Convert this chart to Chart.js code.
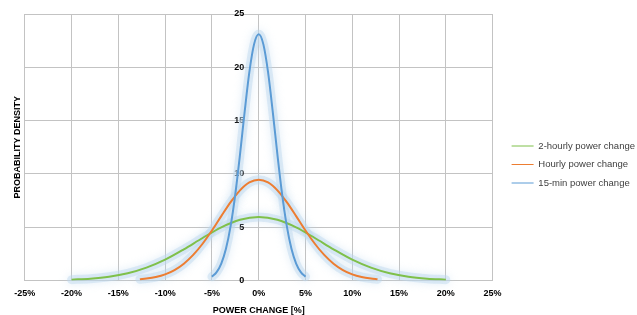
<!DOCTYPE html>
<html>
<head>
<meta charset="utf-8">
<script src="https://cdn.jsdelivr.net/npm/chart.js@4"></script>
<style>
  html, body { margin: 0; padding: 0; background: #fff; }
</style>
</head>
<body>
<canvas id="chart" width="637" height="315"></canvas>
<script>
// series names
const seriesNames = ["2-hourly power change", "Hourly power change", "15-min power change"];

// 2-hourly power change (x in %, y = density)
const twoHourX = [-20, -18, -16, -14, -12, -10, -8, -6, -4, -2, 0, 2, 4, 6, 8, 10, 12, 14, 16, 18, 20];
const twoHourY = [0.07, 0.16, 0.34, 0.67, 1.20, 1.95, 2.92, 3.98, 4.98, 5.69, 5.95, 5.69, 4.98, 3.98, 2.92, 1.95, 1.20, 0.67, 0.34, 0.16, 0.07];

// Hourly power change
const hourX = [-12.7, -12, -11, -10, -9, -8, -7, -6, -5, -4, -3, -2, -1, 0, 1, 2, 3, 4, 5, 6, 7, 8, 9, 10, 11, 12, 12.7];
const hourY = [0.10, 0.17, 0.32, 0.57, 0.97, 1.57, 2.39, 3.44, 4.68, 6.03, 7.34, 8.45, 9.19, 9.45, 9.19, 8.45, 7.34, 6.03, 4.68, 3.44, 2.39, 1.57, 0.97, 0.57, 0.32, 0.17, 0.10];

// 15-min power change
const quarterX = [-5, -4.5, -4, -3.5, -3, -2.5, -2, -1.5, -1, -0.5, 0, 0.5, 1, 1.5, 2, 2.5, 3, 3.5, 4, 4.5, 5];
const quarterY = [0.35, 0.78, 1.58, 2.96, 5.11, 8.10, 11.81, 15.84, 19.54, 22.15, 23.1, 22.15, 19.54, 15.84, 11.81, 8.10, 5.11, 2.96, 1.58, 0.78, 0.35];

const colors = ["#7fc04a", "#ed7d31", "#5b9bd5"];

function pts(xs, ys) {
    return xs.map((x, i) => ({ x: x, y: ys[i] }));
}

Chart.defaults.font.family = "'Liberation Sans', Arial, sans-serif";
Chart.defaults.color = "#000";

// soft light-blue glow under every curve
const glow = {
    id: "glow",
    beforeDatasetsDraw(chart) {
        const ctx = chart.ctx;
        chart.getSortedVisibleDatasetMetas().forEach(meta => {
            ctx.save();
            ctx.beginPath();
            meta.dataset.path(ctx);
            ctx.lineWidth = 9;
            ctx.lineCap = "round";
            ctx.lineJoin = "round";
            ctx.strokeStyle = "rgba(189,215,238,0.45)";
            ctx.shadowColor = "rgba(189,215,238,0.9)";
            ctx.shadowBlur = 8;
            ctx.stroke();
            ctx.restore();
        });
    }
};

const gridColor = "#c3c3c3";

new Chart(document.getElementById("chart"), {
    type: "line",
    data: {
        datasets: [
            { label: seriesNames[0], data: pts(twoHourX, twoHourY), borderColor: colors[0], backgroundColor: colors[0], order: 3 },
            { label: seriesNames[1], data: pts(hourX, hourY), borderColor: colors[1], backgroundColor: colors[1], order: 2 },
            { label: seriesNames[2], data: pts(quarterX, quarterY), borderColor: colors[2], backgroundColor: colors[2], order: 1 }
        ]
    },
    options: {
        responsive: false,
        animation: false,
        devicePixelRatio: 1,
        elements: {
            point: { radius: 0 },
            line: { borderWidth: 2, cubicInterpolationMode: "monotone" }
        },
        layout: { padding: { left: 8, top: 14, right: -8, bottom: 0 } },
        plugins: {
            tooltip: { enabled: false },
            legend: {
                position: "right",
                maxWidth: 160,
                labels: {
                    usePointStyle: true,
                    pointStyle: "line",
                    pointStyleWidth: 22,
                    font: { size: 9.5 },
                    color: "#404040",
                    padding: 9,
                    sort: (a, b) => a.datasetIndex - b.datasetIndex
                }
            }
        },
        scales: {
            x: {
                type: "linear",
                min: -25,
                max: 25,
                ticks: {
                    stepSize: 5,
                    padding: 8,
                    font: { size: 9, weight: "bold" },
                    callback: v => v + "%"
                },
                grid: { color: gridColor, drawTicks: false },
                border: { color: gridColor },
                title: {
                    display: true,
                    text: "POWER CHANGE [%]",
                    font: { size: 9, weight: "bold" },
                    padding: { top: -2, bottom: -1 }
                }
            },
            y: {
                type: "linear",
                position: { x: -1.55 },
                min: 0,
                max: 25,
                ticks: {
                    stepSize: 5,
                    font: { size: 9, weight: "bold" }
                },
                grid: { color: gridColor, drawTicks: false },
                border: { display: false }
            },
            yTitle: {
                type: "linear",
                position: "left",
                min: 0,
                max: 1,
                ticks: { display: false },
                grid: { display: false, drawTicks: false },
                border: { display: false },
                title: {
                    display: true,
                    text: "PROBABILITY DENSITY",
                    font: { size: 9, weight: "bold" },
                    padding: { top: 4, bottom: 2 }
                }
            },
            // empty spacer between plot and legend
            yGap: {
                type: "linear",
                position: "right",
                min: 0,
                max: 1,
                ticks: { display: false },
                grid: { display: false, drawTicks: false },
                border: { display: false },
                afterFit: s => { s.width = 10; }
            }
        }
    },
    plugins: [glow]
});
</script>
</body>
</html>
